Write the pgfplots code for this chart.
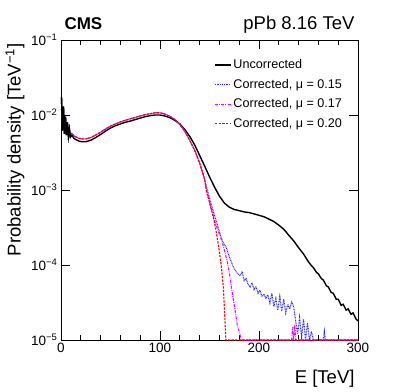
\documentclass[border=0pt]{standalone}
\usepackage{fontspec}
\setmainfont{Liberation Sans}
\usepackage{pgfplots}
\pgfplotsset{compat=1.18}
\definecolor{rblue}{RGB}{40,40,255}
\definecolor{rmag}{RGB}{255,0,255}
\definecolor{rred}{RGB}{255,0,0}
\begin{document}
\begin{tikzpicture}
\useasboundingbox (-61pt,-51pt) rectangle (346pt,340pt);
\begin{axis}[
  name=ax,
  anchor=south west, at={(0pt,0pt)},
  scale only axis, width=297pt, height=300pt,
  xmin=0, xmax=300, ymode=log, log basis y=10, ymin=1e-5, ymax=1e-1,
  tick pos=both, tick align=inside,
  major tick length=9pt, minor tick length=5pt,
  xtick={0,100,200,300}, minor x tick num=4,
  ytick={1e-5,1e-4,1e-3,1e-2,1e-1},
  yticklabels={10\textsuperscript{−5},10\textsuperscript{−4},10\textsuperscript{−3},10\textsuperscript{−2},10\textsuperscript{−1}},
  /pgf/number format/assume math mode=true,
  tick label style={font=\fontsize{13.5}{16}\selectfont},
  axis line style={line width=0.8pt},
  every tick/.style={line width=0.6pt, black},
  xlabel={E [TeV]}, ylabel={Probability density [TeV\textsuperscript{−1}]},
  label style={font=\fontsize{18.5}{22}\selectfont},
  xlabel style={at={(axis description cs:1,0)}, anchor=base east, yshift=-43pt},
  ylabel style={at={(axis description cs:-0.136,1)}, anchor=base east},
  legend style={at={(axis description cs:0.515,0.942)}, anchor=north west, draw=none, fill=none,
    font=\fontsize{12.6}{15}\selectfont, row sep=5pt, inner xsep=0pt, inner ysep=0pt},
  legend cell align=left,
  legend image code/.code={\draw[#1] (0pt,0pt) -- (16pt,0pt);},
  clip mode=individual,
]
\addlegendimage{black, line width=1.2pt}
\addlegendentry{Uncorrected}
\addlegendimage{rblue, line width=1.3pt, dash pattern=on 0.9pt off 0.9pt}
\addlegendentry{Corrected, μ = 0.15}
\addlegendimage{rmag, line width=1.3pt, dash pattern=on 3pt off 1.2pt on 1pt off 1.2pt}
\addlegendentry{Corrected, μ = 0.17}
\addlegendimage{red, line width=1.3pt, dash pattern=on 2.5pt off 1.2pt}
\addlegendentry{Corrected, μ = 0.20}
\addplot[black, line width=1.4pt, forget plot] coordinates {
(0.5,0.0175)(1.5,0.0062)(2.5,0.0130)(3.5,0.0056)(4.5,0.0095)(5.5,0.0054)(6.5,0.0080)(7.5,0.0052)(8.5,0.0065)(9.5,0.0051)
(11,0.0054)(13,0.0049)(15,0.0047)(18,0.0045)(21,0.0044)(25,0.0044)(30,0.0046)(35,0.0050)(40,0.0055)(45,0.0061)
(50,0.0067)(55,0.0072)(60,0.0076)(65,0.0080)(70,0.0083)(75,0.0087)(80,0.0091)(85,0.0095)(90,0.0098)(95,0.0100)
(100,0.0100)(105,0.0097)(110,0.0092)(115,0.0085)(120,0.0076)(125,0.0064)(130,0.0052)(135,0.0040)(140,0.0029)(145,0.0021)
(150,0.0015)(155,0.00110)(160,0.00083)(165,0.00067)(170,0.00059)(175,0.00055)(180,0.00053)(185,0.00051)(190,0.00050)(195,0.00048)
(200,0.00046)(205,0.00044)(210,0.00041)(215,0.00038)(220,0.00034)(225,0.00030)(230,0.00025)(235,0.00021)(240,0.00017)(245,0.00014)
(250,0.00011)(253,0.000098)(255,0.000092)(258,0.000080)(260,0.000076)(263,0.000066)(265,0.000063)(268,0.000053)(270,0.000051)
(273,0.000043)(275,0.000042)(278,0.000035)(280,0.000035)(283,0.000029)(285,0.000030)(288,0.000025)(290,0.000026)(293,0.000022)(295,0.000023)(298,0.000019)(300,0.000018)
};
\addplot[rblue, line width=1.1pt, dash pattern=on 0.8pt off 0.8pt, forget plot] coordinates {
(0.5,0.012)(1.5,0.0075)(2.5,0.0105)(3.5,0.0065)(4.5,0.0085)(5.5,0.0060)(6.5,0.0072)(7.5,0.0058)(8.5,0.0062)(9.5,0.0056)
(11,0.0057)(13,0.0053)(15,0.0051)(18,0.0049)(21,0.0048)(25,0.0048)(30,0.0050)(35,0.0054)(40,0.0059)(45,0.0065)
(50,0.0071)(55,0.0076)(60,0.0081)(65,0.0085)(70,0.0089)(75,0.0093)(80,0.0097)(85,0.0101)(90,0.0104)(95,0.0107)
(100,0.0107)(105,0.0103)(110,0.0096)(115,0.0087)(120,0.0075)(125,0.0061)(130,0.0046)(135,0.0034)(140,0.0023)(145,0.0014)
(147,0.0011)(150,0.00078)(153,0.00057)(157,0.00038)(160,0.00028)(163,0.00021)(167,0.00017)(170,0.00013)(172,0.00011)(174,0.000095)
(176,0.000085)(178,0.000078)(181,0.000072)(183,0.000082)(185,0.000062)(187,0.000066)(189,0.000055)(191,0.000051)(193,0.000058)(195,0.000047)
(197,0.000052)(199,0.000042)(201,0.000046)(203,0.000038)(205,0.000041)(207,0.000036)(209,0.000040)(211,0.000031)(213,0.000042)(215,0.000028)
(217,0.000036)(219,0.000025)(221,0.000038)(223,0.000024)(225,0.000035)(227,0.000023)(229,0.000030)(231,0.000026)(233,0.000032)(235,0.000028)
(237,0.000018)(239,0.000012)(241,0.000020)(243,0.000011)(245,0.000019)(247,0.000010)(249,0.000017)(251,0.000010)(253,0.000013)(255,0.00001)
(265,0.00001)(266,0.000013)(267,0.00001)(300,0.00001)
};
\addplot[rmag, line width=1.1pt, dash pattern=on 3pt off 1.2pt on 0.8pt off 1.2pt, forget plot] coordinates {
(0.5,0.012)(1.5,0.0075)(2.5,0.0105)(3.5,0.0065)(4.5,0.0085)(5.5,0.0060)(6.5,0.0072)(7.5,0.0058)(8.5,0.0062)(9.5,0.0056)
(11,0.0057)(13,0.0053)(15,0.0051)(18,0.0049)(21,0.0048)(25,0.0048)(30,0.0050)(35,0.0054)(40,0.0059)(45,0.0065)
(50,0.0071)(55,0.0076)(60,0.0081)(65,0.0085)(70,0.0089)(75,0.0093)(80,0.0097)(85,0.0101)(90,0.0104)(95,0.0107)
(100,0.0107)(105,0.0103)(110,0.0096)(115,0.0087)(120,0.0075)(125,0.0061)(130,0.0046)(135,0.0034)(140,0.0023)(145,0.0014)
(147,0.0010)(150,0.00070)(153,0.00050)(156,0.00036)(160,0.00026)(163,0.00020)(166,0.00014)(168,0.00011)(170,0.00008)(172,0.000052)
(174,0.000035)(176,0.000024)(178,0.000016)(180,0.000013)(182,0.00001)(233,0.00001)(234,0.000015)(235,0.00001)(236,0.000016)(237,0.00001)(300,0.00001)
};
\addplot[rred, line width=1.1pt, dash pattern=on 2.2pt off 1.3pt, forget plot] coordinates {
(0.5,0.012)(1.5,0.0075)(2.5,0.0105)(3.5,0.0065)(4.5,0.0085)(5.5,0.0060)(6.5,0.0072)(7.5,0.0058)(8.5,0.0062)(9.5,0.0056)
(11,0.0057)(13,0.0053)(15,0.0051)(18,0.0049)(21,0.0048)(25,0.0048)(30,0.0050)(35,0.0054)(40,0.0059)(45,0.0065)
(50,0.0071)(55,0.0076)(60,0.0081)(65,0.0085)(70,0.0089)(75,0.0093)(80,0.0097)(85,0.0101)(90,0.0104)(95,0.0107)
(100,0.0107)(105,0.0103)(110,0.0096)(115,0.0087)(120,0.0075)(125,0.0061)(130,0.0046)(135,0.0034)(140,0.0023)(145,0.0014)
(147,0.00095)(150,0.00068)(153,0.00048)(156,0.00032)(158,0.00022)(160,0.00015)(162,0.000095)(164,0.00005)(165.5,0.00002)(166.5,0.00001)(300,0.00001)
};
\addplot[black, line width=1.4pt, forget plot] coordinates {
(0.5,0.0175)(1.5,0.0062)(2.5,0.0130)(3.5,0.0056)(4.5,0.0095)(5.5,0.0054)(6.5,0.0080)(7.5,0.0052)(8.5,0.0065)(9.5,0.0051)(11,0.0054)
};
\end{axis}
\node[anchor=base west, font=\fontsize{17}{20}\selectfont\bfseries] at ([yshift=10pt]ax.north west) {CMS};
\node[anchor=base east, font=\fontsize{18.5}{22}\selectfont] at ([yshift=10pt]ax.north east) {pPb 8.16 TeV};
\end{tikzpicture}
\end{document}
